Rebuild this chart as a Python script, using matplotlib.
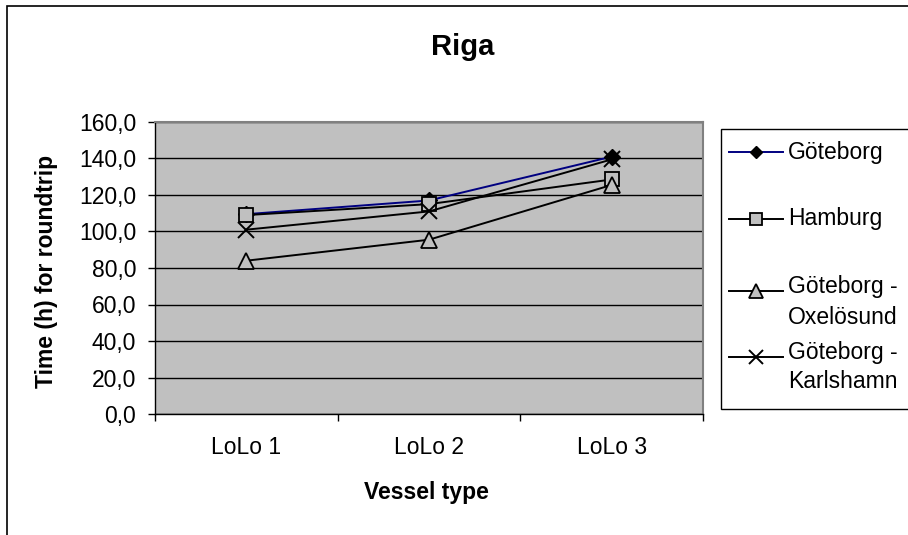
import matplotlib.pyplot as plt
from matplotlib.patches import Rectangle
from matplotlib.lines import Line2D
from matplotlib.ticker import FuncFormatter

plt.rcParams['font.family'] = ['Liberation Sans', 'DejaVu Sans']

# Data
vessels = ["LoLo 1", "LoLo 2", "LoLo 3"]
goteborg = [109.5, 117.0, 141.0]
hamburg = [109.0, 115.0, 128.5]
oxelosund = [84.0, 95.5, 125.5]
karlshamn = [101.0, 111.0, 139.5]
series_names = [["Göteborg"], ["Hamburg"], ["Göteborg -", "Oxelösund"],
                ["Göteborg -", "Karlshamn"]]

W, H = 908, 535


def fx(px):
    return px / W


def fy(py):
    return 1 - py / H


fig = plt.figure(figsize=(W / 100, H / 100), dpi=100)

# outer chart frame (runs off the right and bottom)
fig.add_artist(Rectangle((fx(7), -0.1), 1.2, fy(6) + 0.1,
                         transform=fig.transFigure, fill=False,
                         edgecolor='black', linewidth=1.2))

ax = fig.add_axes([fx(155), fy(414), fx(703) - fx(155), fy(122) - fy(414)])
ax.set_facecolor('#C0C0C0')

styles = [
    dict(color='#000080', marker='D', ms=8, mfc='black', mec='black'),
    dict(color='black', marker='s', ms=10.5, mfc='#C0C0C0', mec='black', mew=1.3),
    dict(color='black', marker='^', ms=11.5, mfc='#C0C0C0', mec='black', mew=1.3),
    dict(color='black', marker='x', ms=11, mec='black', mew=1.4),
]

x = [0.5, 1.5, 2.5]
for i, ys in enumerate([goteborg, hamburg, oxelosund, karlshamn]):
    ax.plot(x, ys, lw=1.4, zorder=3 + i, **styles[i])

ax.set_xlim(0, 3)
ax.set_ylim(0, 160)
ax.set_yticks(range(0, 161, 20))
ax.yaxis.set_major_formatter(FuncFormatter(lambda v, p: f"{v:.1f}".replace('.', ',')))
ax.set_xticks([0, 1, 2, 3])
ax.set_xticklabels([])
ax.set_xticks(x, minor=True)
ax.set_xticklabels(vessels, minor=True)
ax.tick_params(axis='x', which='minor', length=0, pad=16, labelsize=16.5)
ax.tick_params(axis='x', which='major', length=5, width=1, direction='out', color='black')
ax.tick_params(axis='y', length=5, width=1, direction='out', labelsize=16.5,
               color='black', pad=8.5)

ax.grid(axis='y', color='black', lw=1.0)
ax.set_axisbelow(True)
for s in ax.spines.values():
    s.set_color('#808080')
    s.set_linewidth(1.5)
for side in ['left', 'bottom']:
    ax.spines[side].set_color('black')
    ax.spines[side].set_linewidth(1.0)

fig.text(fx(463), fy(47), 'Riga', ha='center', va='center',
         fontsize=21, fontweight='bold')
fig.text(fx(426), fy(493), 'Vessel type', ha='center', va='center',
         fontsize=16.5, fontweight='bold')
fig.text(fx(47), fy(271), 'Time (h) for roundtrip', ha='center', va='center',
         rotation=90, fontsize=16.5, fontweight='bold')

# legend box, clipped at the right edge
fig.add_artist(Rectangle((fx(720.5), fy(408.5)), 0.5, fy(129) - fy(408.5),
                         transform=fig.transFigure, facecolor='white',
                         edgecolor='black', linewidth=1.0))
key_y = [152, 219, 291, 357]
text_y = [[152], [219], [287, 317], [352, 382]]
key_ms = [6.5, 8.5, 9.5, 9.5]
for i in range(4):
    st = dict(styles[i])
    st['ms'] = key_ms[i]
    fig.add_artist(Line2D([fx(729), fx(783)], [fy(key_y[i])] * 2,
                          transform=fig.transFigure, lw=1.4, **st,
                          markevery=[]))
    fig.add_artist(Line2D([fx(756)], [fy(key_y[i])], transform=fig.transFigure,
                          lw=0, **st))
    for name, ty in zip(series_names[i], text_y[i]):
        fig.text(fx(788), fy(ty), name, ha='left', va='center', fontsize=16.5)

fig.savefig('out.png', dpi=100)
